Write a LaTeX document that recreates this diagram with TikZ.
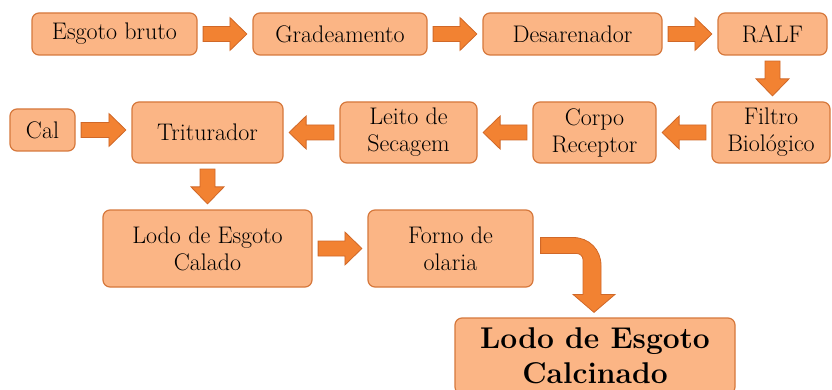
\documentclass[tikz,border=0pt]{standalone}
\usepackage{xcolor}
\usepackage{tikz}
\usetikzlibrary{calc}
\definecolor{boxfill}{RGB}{251, 181, 133}
\definecolor{boxdark}{RGB}{214, 120, 60}
\definecolor{arrowfill}{RGB}{242, 130, 50}
\definecolor{arrowdark}{RGB}{208, 104, 40}

\begin{document}
\begin{tikzpicture}[x=1pt, y=-1pt,
  box/.style={draw=boxdark, fill=boxfill, line width=1.2pt, rounded corners=7pt,
    align=center, inner sep=0pt, font=\fontsize{24}{27}\selectfont},
  bigbox/.style={box, font=\fontsize{30}{35}\selectfont\bfseries},
  fatarrow/.style={draw=arrowdark, fill=arrowfill, line width=0.8pt, line join=miter,
    to path={let \p1=($(\tikztostart)!5.5pt!(\tikztotarget)$),
                 \p2=($(\tikztotarget)!5.5pt!(\tikztostart)$),
                 \p3=($(\p2)!17pt!(\p1)$) in
      ($(\p1)!7.5pt!90:(\p2)$) -- ($(\p3)!7.5pt!90:(\p2)$) -- ($(\p3)!16.5pt!90:(\p2)$)
      -- (\p2) -- ($(\p3)!16.5pt!-90:(\p2)$) -- ($(\p3)!7.5pt!-90:(\p2)$)
      -- ($(\p1)!7.5pt!-90:(\p2)$) -- cycle}}]
\useasboundingbox (0,0) rectangle (832,390);
\clip (0,0) rectangle (832,390);

% Top row
\node[box, minimum width=165pt, minimum height=42pt] (esg) at (114.5,34) {Esgoto bruto};
\node[box, minimum width=174pt, minimum height=42pt] (grd) at (340,34) {Gradeamento};
\node[box, minimum width=179pt, minimum height=42pt] (des) at (572.5,34) {Desarenador};
\node[box, minimum width=109pt, minimum height=42pt] (ralf) at (772.5,34) {RALF};

% Middle row
\node[box, minimum width=118pt, minimum height=61pt] (filt) at (771,132.5) {Filtro\\Biológico};
\node[box, minimum width=123pt, minimum height=61pt] (corpo) at (594.5,132.5) {Corpo\\Receptor};
\node[box, minimum width=137pt, minimum height=61pt] (leito) at (408.5,132.5) {Leito de\\Secagem};
\node[box, minimum width=151pt, minimum height=61pt] (trit) at (207.5,132.5) {Triturador};
\node[box, minimum width=65pt, minimum height=42pt] (cal) at (42.5,130) {Cal};

% Bottom rows
\node[box, minimum width=209pt, minimum height=77pt] (calado) at (207.5,248.5) {Lodo de Esgoto\\Calado};
\node[box, minimum width=165pt, minimum height=77pt] (forno) at (450.5,248.5) {Forno de\\olaria};
\node[bigbox, minimum width=280pt, minimum height=76pt] (calc) at (595,356) {Lodo de Esgoto\\Calcinado};

% Block arrows
\draw[fatarrow] (esg.east) to (grd.west);
\draw[fatarrow] (grd.east) to (des.west);
\draw[fatarrow] (des.east) to (ralf.west);
\draw[fatarrow] (ralf.south) to (ralf.south |- filt.north);
\draw[fatarrow] (filt.west) to (corpo.east);
\draw[fatarrow] (corpo.west) to (leito.east);
\draw[fatarrow] (leito.west) to (trit.east);
\draw[fatarrow] (cal.east) to (cal.east -| trit.west);
\draw[fatarrow] (trit.south) to (calado.north);
\draw[fatarrow] (calado.east) to (forno.west);

% Bent arrow down to the final box
\draw[draw=arrowdark, fill=arrowfill, line width=0.8pt, line join=miter]
  let \p1=(forno.east), \p2=(calc.north) in
  (\x1+7pt,\y1+11pt) -- (\x2-22pt,\y1+11pt)
  .. controls (\x2-6pt,\y1+11pt) and (\x2+6pt,\y1-1pt) .. (\x2+6pt,\y1-17pt)
  -- (\x2+6pt,\y2+23pt) -- (\x2+20pt,\y2+23pt) -- (\x2-1pt,\y2+5pt)
  -- (\x2-22pt,\y2+23pt) -- (\x2-12pt,\y2+23pt) -- (\x2-12pt,\y1-11pt)
  .. controls (\x2-12pt,\y1-7.7pt) and (\x2-15.3pt,\y1-5pt) .. (\x2-18pt,\y1-5pt)
  -- (\x1+7pt,\y1-5pt) -- cycle;
\end{tikzpicture}
\end{document}
